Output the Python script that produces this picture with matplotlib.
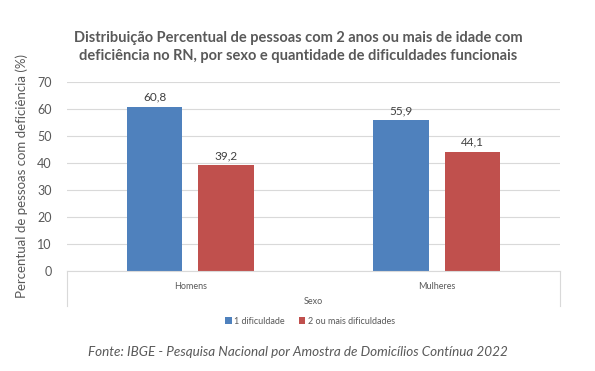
import matplotlib.pyplot as plt
import numpy as np

categorias = ['Homens', 'Mulheres']
series = ['1 dificuldade', '2 ou mais dificuldades']
valores_1 = [60.8, 55.9]
valores_2 = [39.2, 44.1]
cores = ['#4f81bd', '#c0504d']

plt.rcParams['font.family'] = ['Lato', 'DejaVu Sans']
cinza = '#595959'
linha = '#d9d9d9'

fig = plt.figure(figsize=(5.95, 3.71), dpi=100)
ax = fig.add_axes([67 / 595, 1 - 271 / 371, 493 / 595, 189 / 371])

x = np.arange(len(categorias))
w = 0.225
off = 0.145
b1 = ax.bar(x - off, valores_1, w, color=cores[0], label=series[0])
b2 = ax.bar(x + off, valores_2, w, color=cores[1], label=series[1])
for bars in (b1, b2):
    for r in bars:
        ax.text(r.get_x() + r.get_width() / 2, r.get_height() + 1.5,
                f'{r.get_height():.1f}'.replace('.', ','),
                ha='center', va='bottom', fontsize=8.5, color='#404040')

ax.set_xlim(-0.5, 1.5)
ax.set_ylim(0, 70)
ax.set_yticks(range(0, 71, 10))
ax.grid(axis='y', color=linha, lw=0.8)
ax.set_axisbelow(True)
for s in ['top', 'right', 'left']:
    ax.spines[s].set_visible(False)
ax.spines['bottom'].set_color(linha)
ax.tick_params(axis='y', length=0, pad=11, labelsize=9, labelcolor=cinza)
ax.tick_params(axis='x', length=0, pad=8, labelsize=6.5, labelcolor=cinza)
ax.set_xticks(x)
ax.set_xticklabels(categorias)

# caixa do eixo de categorias (Sexo)
for xf in (67 / 595, 560 / 595):
    fig.add_artist(plt.Line2D([xf, xf], [1 - 271 / 371, 1 - 306 / 371], color=linha, lw=0.8))
fig.text(313 / 595, 1 - 301 / 371, 'Sexo', ha='center', va='center', fontsize=6.5, color=cinza)

ax.set_ylabel('Percentual de pessoas com deficiência (%)', fontsize=9.5, color=cinza)
ax.yaxis.set_label_coords(-0.08, 0.5)

fig.text(298 / 595, 1 - 47 / 371,
         'Distribuição Percentual de pessoas com 2 anos ou mais de idade com\n'
         'deficiência no RN, por sexo e quantidade de dificuldades funcionais',
         ha='center', va='center', fontsize=10.5, fontweight='bold', color=cinza,
         linespacing=1.35)

fig.legend(loc='center', bbox_to_anchor=(310 / 595, 1 - 321 / 371), ncol=2, frameon=False,
           fontsize=6.5, labelcolor=cinza, handlelength=0.7, handleheight=0.7,
           handletextpad=0.3, columnspacing=1.5)

fig.text(298 / 595, 1 - 352 / 371, 'Fonte: IBGE - Pesquisa Nacional por Amostra de Domicílios Contínua 2022',
         ha='center', va='center', fontsize=9.7, style='italic', color=cinza)

fig.savefig('out.png', dpi=100)
